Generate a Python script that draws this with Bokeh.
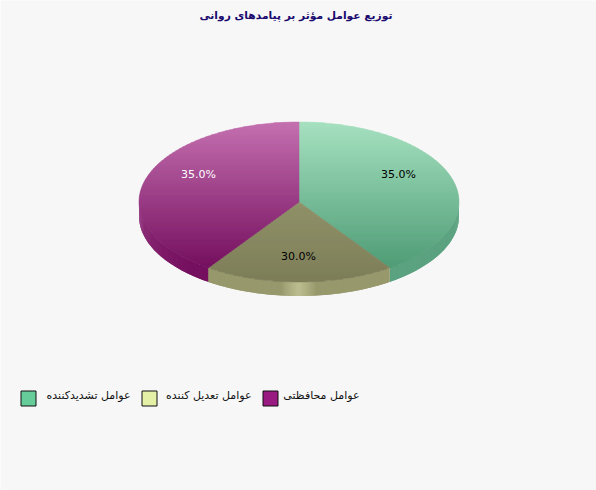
import numpy as np
from bokeh.plotting import figure
from bokeh.models import Range1d
from bokeh.core.properties import value
from bokeh.embed import file_html
from bokeh.resources import INLINE

title = "توزیع عوامل مؤثر بر پیامدهای روانی"
categories = ["عوامل تشدیدکننده", "عوامل تعدیل کننده", "عوامل محافظتی"]
label_values = [35.0, 30.0, 35.0]
# the reference's drawn sectors do not follow its labels: sweep shares
drawn_shares = [40.4, 19.2, 40.4]
swatch_colors = ["#66cc99", "#e4f0a6", "#991a80"]
top_colors = [("#a6e1c0", "#4f9c76"), ("#909169", "#7d7e58"), ("#c470b0", "#75105f")]
rim_colors = ["#5ba280", "#97996c", "#7a1766"]
label_colors = ["#000000", "#000000", "#ffffff"]
label_pos = [(398, 174), (298, 256), (198, 174)]
legend_swatch_x = [20.5, 141.5, 262.5]
legend_text_right = [130, 251, 359]

BG = "#f7f7f7"
cx, cy, rx, ry, depth = 298.5, 201.5, 160.0, 80.0, 14.0

p = figure(width=596, height=490, output_backend="svg", toolbar_location=None,
           x_range=Range1d(0, 596), y_range=Range1d(490, 0),
           background_fill_color=BG, border_fill_color=BG, min_border=0)
p.axis.visible = False
p.grid.visible = False
p.outline_line_color = None


def hex2rgb(c):
    return np.array([int(c[i:i + 2], 16) for i in (1, 3, 5)], float)


def mix(a, b, t):
    v = hex2rgb(a) * (1 - t) + hex2rgb(b) * t
    return "#%02x%02x%02x" % tuple(int(round(q)) for q in v)


def clip_band(pts, y0, y1):
    def clip(poly, inside, cross):
        out = []
        for i in range(len(poly)):
            a, b = poly[i - 1], poly[i]
            if inside(b):
                if not inside(a):
                    out.append(cross(a, b))
                out.append(b)
            elif inside(a):
                out.append(cross(a, b))
        return out

    def at(y):
        def c(a, b):
            t = (y - a[1]) / (b[1] - a[1])
            return (a[0] + t * (b[0] - a[0]), y)
        return c
    r = clip(pts, lambda q: q[1] >= y0, at(y0))
    if r:
        r = clip(r, lambda q: q[1] <= y1, at(y1))
    return r


fractions = np.cumsum([0] + drawn_shares) / sum(drawn_shares)
angles = fractions * 2 * np.pi  # clockwise from the top

# side wall
xs, ys, cols = [], [], []
for i in range(len(categories)):
    a0, a1 = angles[i], angles[i + 1]
    lo, hi = max(a0, np.pi / 2), min(a1, 3 * np.pi / 2)
    if hi <= lo:
        continue
    edges = np.linspace(lo, hi, int((hi - lo) / 0.012) + 2)
    for e0, e1 in zip(edges[:-1], edges[1:]):
        th = np.array([e0, min(e1 + 0.012, hi)])
        x = cx + rx * np.sin(th)
        y = cy - ry * np.cos(th)
        xs.append(list(x) + list(x[::-1]))
        ys.append(list(y) + list((y + depth)[::-1]))
        c = rim_colors[i]
        if i == 1:
            d = abs(cx + rx * np.sin(e0) - 299.0)
            c = mix(c, "#bcbe90", float(np.clip(1 - d / 17.0, 0, 1)) ** 0.8 * (d < 17))
        if i == 2:
            # continues the top face's shading, so the wall barely shows on the left
            t = float(np.clip((cy - ry * np.cos(e0) + depth / 2 - (cy - ry)) / (2 * ry - 14), 0, 1))
            c = mix(top_colors[2][0], top_colors[2][1], t)
        cols.append(c)
p.patches(xs, ys, fill_color=cols, line_color=None)

# top face, shaded by horizontal bands
bands = np.arange(cy - ry - 1, cy + ry + 2, 2.0)
xs, ys, cols = [], [], []
for i in range(len(categories)):
    th = np.linspace(angles[i], angles[i + 1], 160)
    poly = [(cx, cy)] + [(cx + rx * np.sin(t), cy - ry * np.cos(t)) for t in th]
    ymin = min(q[1] for q in poly)
    ymax = max(q[1] for q in poly)
    for b in bands:
        part = clip_band(poly, b, b + 2.0)
        if len(part) < 3:
            continue
        t = float(np.clip((b + 1 - ymin) / (ymax - ymin), 0, 1))
        c = mix(top_colors[i][0], top_colors[i][1], t)
        xs.append([q[0] for q in part])
        ys.append([q[1] for q in part])
        cols.append(c)
p.patches(xs, ys, fill_color=cols, line_color=cols, line_width=0.5)

# value labels
p.text([q[0] for q in label_pos], [q[1] for q in label_pos],
       text=["%.1f%%" % v for v in label_values],
       text_color=label_colors, text_font=value("DejaVu Sans"), text_font_size="11px",
       text_align="center", text_baseline="middle")

# title
p.text([295.5], [15], text=[title], text_color="#1a0a6e", text_font=value("DejaVu Sans"),
       text_font_size="10.7px", text_font_style="bold", text_align="center", text_baseline="middle")

# legend
p.quad(left=legend_swatch_x, right=[v + 15 for v in legend_swatch_x], top=[390.5] * 3, bottom=[405.5] * 3,
       fill_color=swatch_colors, line_color="#111111", line_width=1, line_join="miter")
p.text(legend_text_right, [395] * 3, text=categories, text_color="#111111",
       text_font=value("DejaVu Sans"), text_font_size="11px",
       text_align="right", text_baseline="middle")

html = file_html(p, INLINE)
html = html.replace("<body>", '<body style="background:%s;margin:0">' % BG, 1)
open("out.html", "w").write(html)
